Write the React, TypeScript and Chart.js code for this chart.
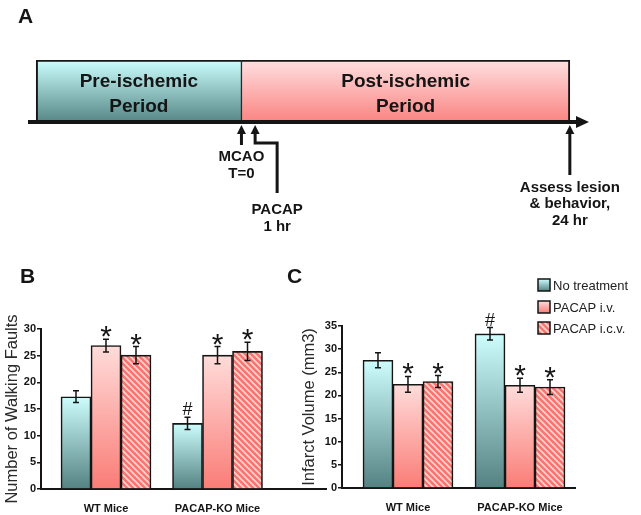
import React, { useEffect, useRef } from "react";
import { Chart, registerables } from "chart.js";

Chart.register(...registerables);

const FONT = '"Liberation Sans", Arial, Helvetica, sans-serif';
const INK = "#151515";

// ---------- Panel A : timeline (hours) ----------
const periodLabels = [["Pre-ischemic", "Period"], ["Post-ischemic", "Period"]];
const periodStart = [-15, 0];
const periodEnd = [0, 24];
const timelineMin = -15.6;
const timelineMax = 25.4;
const eventTimes = [0, 1, 24];
const eventLabels = [["MCAO", "T=0"], ["PACAP", "1 hr"], ["Assess lesion", "& behavior,", "24 hr"]];

// ---------- Panels B and C ----------
const groups = ["WT Mice", "PACAP-KO Mice"];
const groupPos = [1, 2];
const treatments = ["No treatment", "PACAP i.v.", "PACAP i.c.v."];

// Panel B: number of walking faults (per treatment: [WT, PACAP-KO])
const faultsNoTreatment = [17.3, 12.3];
const faultsIV = [26.9, 25.1];
const faultsICV = [25.1, 25.8];
const faultsErrNoTreatment = [1.1, 1.15];
const faultsErrIV = [1.2, 1.6];
const faultsErrICV = [1.6, 1.7];
const faultsMarksNoTreatment = ["", "#"];
const faultsMarksIV = ["*", "*"];
const faultsMarksICV = ["*", "*"];
const faultsMax = 30;

// Panel C: infarct volume (mm3)
const infarctNoTreatment = [27.6, 33.3];
const infarctIV = [22.4, 22.2];
const infarctICV = [23.0, 21.8];
const infarctErrNoTreatment = [1.6, 1.35];
const infarctErrIV = [1.7, 1.5];
const infarctErrICV = [1.3, 1.6];
const infarctMarksNoTreatment = ["", "#"];
const infarctMarksIV = ["*", "*"];
const infarctMarksICV = ["*", "*"];
const infarctMax = 35;

const tickStep = 5;

// ---------- fills ----------
const barTop = ["rgb(206,253,253)", "rgb(255,220,218)"];
const barBottom = ["rgb(84,130,130)", "rgb(250,124,118)"];

let patternCache: CanvasPattern | null = null;
function hatch(ctx2d: CanvasRenderingContext2D): CanvasPattern {
  if (patternCache) return patternCache;
  const c = document.createElement("canvas");
  c.width = 6;
  c.height = 6;
  const g = c.getContext("2d")!;
  g.fillStyle = "rgb(246,118,112)";
  g.fillRect(0, 0, 6, 6);
  g.strokeStyle = "rgb(255,212,208)";
  g.lineWidth = 1.6;
  g.beginPath();
  g.moveTo(-1, -1);
  g.lineTo(7, 7);
  g.moveTo(-1, 5);
  g.lineTo(1, 7);
  g.moveTo(5, -1);
  g.lineTo(7, 1);
  g.stroke();
  patternCache = ctx2d.createPattern(c, "repeat")!;
  return patternCache;
}

function fillFor(ctx2d: CanvasRenderingContext2D, i: number, top: number, bottom: number): any {
  if (i === 2) return hatch(ctx2d);
  if (!isFinite(top) || !isFinite(bottom) || top === bottom) return barTop[i];
  const g = ctx2d.createLinearGradient(0, top, 0, bottom);
  g.addColorStop(0, barTop[i]);
  g.addColorStop(1, barBottom[i]);
  return g;
}

// ---------- Panel A config ----------
const periodTop = ["rgb(204,255,255)", "rgb(255,224,224)"];
const periodBottom = ["rgb(86,134,134)", "rgb(250,132,130)"];

const timelinePlugin = {
  id: "timeline",
  afterDatasetsDraw(chart: any) {
    const { ctx, chartArea: ca, scales } = chart;
    const xs = scales.x;
    ctx.save();
    ctx.fillStyle = INK;
    ctx.strokeStyle = INK;
    ctx.textAlign = "center";
    ctx.textBaseline = "middle";
    ctx.font = `bold 19px ${FONT}`;
    periodLabels.forEach((lines, i) => {
      const cx = (xs.getPixelForValue(periodStart[i]) + xs.getPixelForValue(periodEnd[i])) / 2;
      lines.forEach((t, k) => ctx.fillText(t, cx, ca.top + 22 + k * 25));
    });
    // axis with arrow
    const y0 = ca.bottom;
    ctx.lineWidth = 4;
    ctx.beginPath();
    ctx.moveTo(ca.left, y0);
    ctx.lineTo(ca.right - 8, y0);
    ctx.stroke();
    ctx.beginPath();
    ctx.moveTo(ca.right, y0);
    ctx.lineTo(ca.right - 13, y0 - 6);
    ctx.lineTo(ca.right - 13, y0 + 6);
    ctx.closePath();
    ctx.fill();
    // event arrows
    const layouts = [
      { path: [[0, 23]], cx: 0, ys: [35, 52] },
      { path: [[0, 21], [22, 21], [22, 71]], cx: 22, ys: [88, 105] },
      { path: [[0, 53]], cx: 0, ys: [66, 82, 99] },
    ];
    ctx.font = `bold 15px ${FONT}`;
    eventTimes.forEach((t, i) => {
      const x = xs.getPixelForValue(t);
      const tip = y0 + 3;
      const L = layouts[i];
      ctx.lineWidth = 3;
      ctx.beginPath();
      ctx.moveTo(x, tip + 6);
      L.path.forEach(([dx, dy]) => ctx.lineTo(x + dx, y0 + dy));
      ctx.stroke();
      ctx.beginPath();
      ctx.moveTo(x, tip);
      ctx.lineTo(x - 4.5, tip + 9);
      ctx.lineTo(x + 4.5, tip + 9);
      ctx.closePath();
      ctx.fill();
      eventLabels[i].forEach((s, k) => ctx.fillText(s, x + L.cx, y0 + L.ys[k]));
    });
    ctx.textAlign = "left";
    ctx.font = `bold 21px ${FONT}`;
    ctx.fillText("A", 18, 17);
    ctx.restore();
  },
};

function configA(): any {
  return {
    type: "bar",
    data: {
      labels: ["timeline"],
      datasets: periodLabels.map((lab, i) => ({
        label: lab.join(" "),
        data: [[periodStart[i], periodEnd[i]]],
        backgroundColor: (c: any) => {
          const ca = c.chart.chartArea;
          if (!ca || !isFinite(ca.top) || !isFinite(ca.bottom) || ca.bottom <= ca.top) return periodTop[i];
          const g = c.chart.ctx.createLinearGradient(0, ca.top, 0, ca.bottom);
          g.addColorStop(0, periodTop[i]);
          g.addColorStop(1, periodBottom[i]);
          return g;
        },
        borderColor: INK,
        borderWidth: i === 0 ? { left: 2, top: 2, right: 1, bottom: 0 } : { left: 1, top: 2, right: 2, bottom: 0 },
        borderSkipped: false,
        grouped: false,
        barPercentage: 1,
        categoryPercentage: 1,
      })),
    },
    options: {
      indexAxis: "y",
      animation: false,
      responsive: false,
      layout: { padding: { left: 28, right: 52, top: 60, bottom: 123 } },
      scales: {
        x: { type: "linear", min: timelineMin, max: timelineMax, display: false },
        y: { display: false },
      },
      plugins: { legend: { display: false }, tooltip: { enabled: false } },
    },
    plugins: [timelinePlugin],
  };
}

// ---------- Panels B/C config ----------
function errorPlugin(errs: number[][], marks: string[][]) {
  return {
    id: "errbars",
    afterDatasetsDraw(chart: any) {
      const { ctx } = chart;
      const ys = chart.scales.y;
      ctx.save();
      chart.data.datasets.forEach((ds: any, i: number) => {
        const meta = chart.getDatasetMeta(i);
        meta.data.forEach((bar: any, j: number) => {
          const v = ds.data[j].y;
          const e = errs[i][j];
          const x = bar.x;
          const yt = ys.getPixelForValue(v + e);
          const yb = ys.getPixelForValue(v - e);
          ctx.strokeStyle = INK;
          ctx.lineWidth = 1.5;
          ctx.beginPath();
          ctx.moveTo(x, yt);
          ctx.lineTo(x, yb);
          ctx.moveTo(x - 3, yt);
          ctx.lineTo(x + 3, yt);
          ctx.moveTo(x - 3, yb);
          ctx.lineTo(x + 3, yb);
          ctx.stroke();
          const m = marks[i][j];
          if (m) {
            ctx.fillStyle = INK;
            ctx.font = m === "*" ? `30px ${FONT}` : `18px ${FONT}`;
            ctx.textAlign = "center";
            ctx.textBaseline = "alphabetic";
            const tm = ctx.measureText(m);
            ctx.fillText(m, x, yt - 2 - tm.actualBoundingBoxDescent);
          }
        });
      });
      ctx.restore();
    },
  };
}

function decorPlugin(letter: string, lx: number, ly: number, legend: null | { x: number; ys: number[] }) {
  return {
    id: "decor",
    afterDraw(chart: any) {
      const { ctx } = chart;
      ctx.save();
      ctx.fillStyle = INK;
      ctx.textAlign = "left";
      ctx.textBaseline = "middle";
      ctx.font = `bold 21px ${FONT}`;
      ctx.fillText(letter, lx, ly);
      if (legend) {
        chart.data.datasets.forEach((ds: any, i: number) => {
          const y = legend.ys[i];
          ctx.fillStyle = fillFor(ctx, i, y - 6, y + 6);
          ctx.fillRect(legend.x, y - 6, 12, 12);
          ctx.strokeStyle = INK;
          ctx.lineWidth = 1.5;
          ctx.strokeRect(legend.x, y - 6, 12, 12);
          ctx.fillStyle = "#222";
          ctx.font = `13px ${FONT}`;
          ctx.fillText(ds.label, legend.x + 15, y + 1);
        });
      }
      ctx.restore();
    },
  };
}

function barConfig(p: {
  values: number[][];
  errs: number[][];
  marks: string[][];
  max: number;
  title: string;
  xMin: number;
  xMax: number;
  yW: number;
  xH: number;
  pad: any;
  letter: string;
  lx: number;
  ly: number;
  legend: null | { x: number; ys: number[] };
}): any {
  return {
    type: "bar",
    data: {
      datasets: treatments.map((t, i) => ({
        label: t,
        data: groupPos.map((x, j) => ({ x, y: p.values[i][j] })),
        backgroundColor: (c: any) => {
          const chart = c.chart;
          const ys = chart.scales && chart.scales.y;
          if (c.type !== "data" || !ys || !c.parsed) return barTop[Math.min(i, 1)];
          return fillFor(chart.ctx, i, ys.getPixelForValue(c.parsed.y), ys.getPixelForValue(0));
        },
        borderColor: INK,
        borderWidth: 1.6,
        barThickness: 30,
      })),
    },
    options: {
      animation: false,
      responsive: false,
      layout: { padding: p.pad },
      scales: {
        x: {
          type: "linear",
          offset: false,
          min: p.xMin,
          max: p.xMax,
          afterBuildTicks: (s: any) => {
            s.ticks = groupPos.map((v) => ({ value: v }));
          },
          ticks: {
            callback: (v: number) => groups[groupPos.indexOf(v)],
            font: { family: FONT, size: 11, weight: "bold" },
            color: INK,
            padding: 5,
            autoSkip: false,
            maxRotation: 0,
          },
          grid: { display: false, offset: false },
          border: { display: true, color: INK, width: 2 },
          afterFit: (s: any) => {
            s.height = p.xH;
          },
        },
        y: {
          min: 0,
          max: p.max,
          ticks: {
            stepSize: tickStep,
            font: { family: FONT, size: 11, weight: "bold" },
            color: INK,
            padding: 1,
          },
          grid: { drawOnChartArea: false, drawTicks: true, tickLength: 4, color: INK, lineWidth: 1.5 },
          border: { display: true, color: INK, width: 2 },
          title: {
            display: true,
            text: p.title,
            font: { family: FONT, size: 16.5 },
            color: "#2a2a2a",
            padding: { top: 3, bottom: 0 },
          },
          afterFit: (s: any) => {
            s.width = p.yW;
          },
        },
      },
      plugins: { legend: { display: false }, tooltip: { enabled: false } },
    },
    plugins: [errorPlugin(p.errs, p.marks), decorPlugin(p.letter, p.lx, p.ly, p.legend)],
  };
}

export default function App() {
  const aRef = useRef<HTMLCanvasElement>(null);
  const bRef = useRef<HTMLCanvasElement>(null);
  const cRef = useRef<HTMLCanvasElement>(null);

  useEffect(() => {
    Chart.defaults.font.family = FONT;
    const charts = [
      new Chart(aRef.current!, configA()),
      new Chart(
        bRef.current!,
        barConfig({
          values: [faultsNoTreatment, faultsIV, faultsICV],
          errs: [faultsErrNoTreatment, faultsErrIV, faultsErrICV],
          marks: [faultsMarksNoTreatment, faultsMarksIV, faultsMarksICV],
          max: faultsMax,
          title: "Number of Walking Faults",
          xMin: 0.417,
          xMax: 2.973,
          yW: 41,
          xH: 26,
          pad: { left: 0, top: 79, right: 4, bottom: 0 },
          letter: "B",
          lx: 20,
          ly: 27,
          legend: null,
        })
      ),
      new Chart(
        cRef.current!,
        barConfig({
          values: [infarctNoTreatment, infarctIV, infarctICV],
          errs: [infarctErrNoTreatment, infarctErrIV, infarctErrICV],
          marks: [infarctMarksNoTreatment, infarctMarksIV, infarctMarksICV],
          max: infarctMax,
          title: "Infarct Volume (mm3)",
          xMin: 0.411,
          xMax: 2.491,
          yW: 45,
          xH: 27,
          pad: { left: 17, top: 76, right: 66, bottom: 0 },
          letter: "C",
          lx: 7,
          ly: 27,
          legend: { x: 258, ys: [35, 57, 78] },
        })
      ),
    ];
    return () => charts.forEach((c) => c.destroy());
  }, []);

  const abs = (l: number, t: number, w: number, h: number): React.CSSProperties => ({
    position: "absolute",
    left: l,
    top: t,
    width: w,
    height: h,
  });

  return (
    <div style={{ position: "absolute", left: 0, top: 0, width: 641, height: 515, background: "#fff", overflow: "hidden" }}>
      <canvas ref={aRef} width={641} height={245} style={abs(0, 0, 641, 245)} />
      <canvas ref={bRef} width={330} height={265} style={abs(0, 250, 330, 265)} />
      <canvas ref={cRef} width={361} height={265} style={abs(280, 250, 361, 265)} />
    </div>
  );
}
